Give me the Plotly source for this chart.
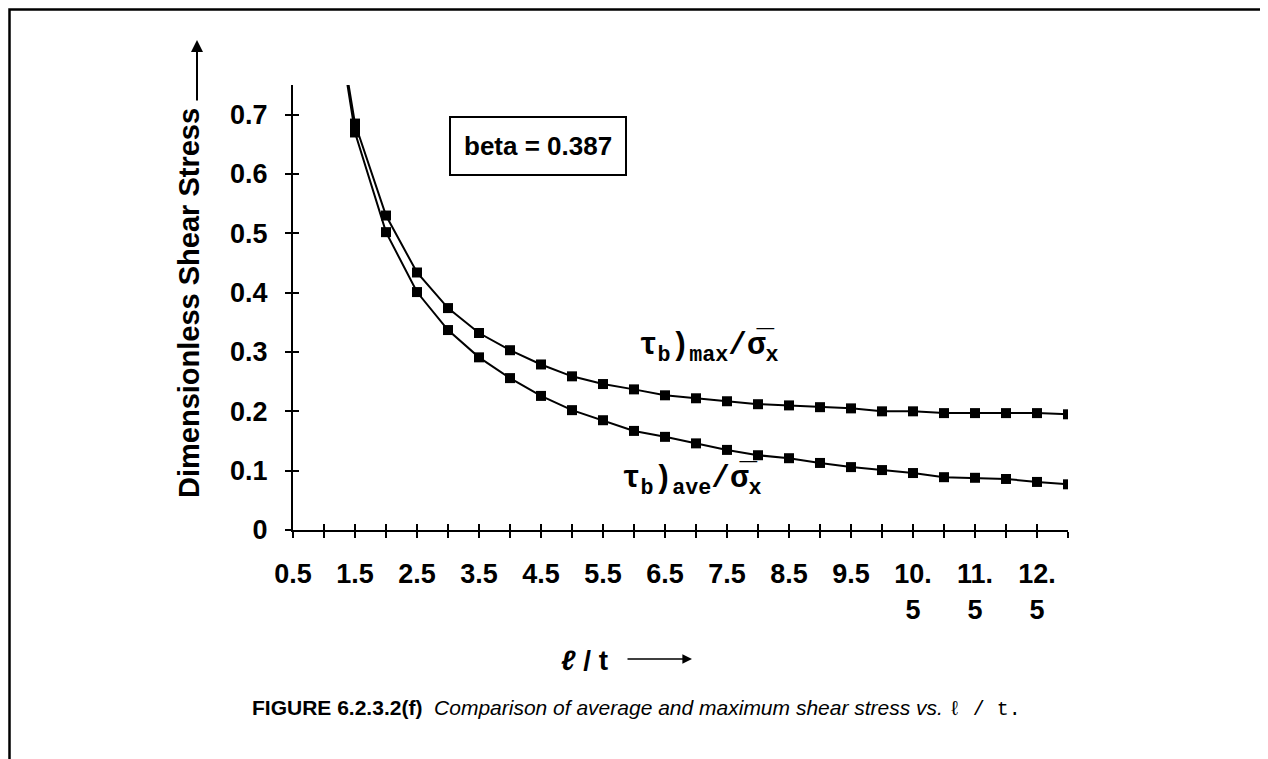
import plotly.graph_objects as go

# ---- data ----
l_over_t = [1.0, 1.5, 2.0, 2.5, 3.0, 3.5, 4.0, 4.5, 5.0, 5.5, 6.0, 6.5, 7.0,
            7.5, 8.0, 8.5, 9.0, 9.5, 10.0, 10.5, 11.0, 11.5, 12.0, 12.5, 13.0]
tau_max = [1.00, 0.685, 0.530, 0.434, 0.374, 0.332, 0.303, 0.279, 0.259, 0.246,
           0.237, 0.227, 0.222, 0.217, 0.212, 0.210, 0.207, 0.205, 0.200, 0.200,
           0.197, 0.197, 0.197, 0.197, 0.195]
tau_ave = [1.00, 0.670, 0.502, 0.401, 0.337, 0.291, 0.256, 0.226, 0.202, 0.185,
           0.167, 0.157, 0.146, 0.135, 0.126, 0.121, 0.113, 0.106, 0.101, 0.096,
           0.089, 0.088, 0.086, 0.081, 0.077]

x_tickvals = [0.5, 1.5, 2.5, 3.5, 4.5, 5.5, 6.5, 7.5, 8.5, 9.5, 10.5, 11.5, 12.5]
x_ticktext = ["0.5", "1.5", "2.5", "3.5", "4.5", "5.5", "6.5", "7.5", "8.5", "9.5",
              "10.<br>5", "11.<br>5", "12.<br>5"]
y_tickvals = [0, 0.1, 0.2, 0.3, 0.4, 0.5, 0.6, 0.7]
y_ticktext = ["0", "0.1", "0.2", "0.3", "0.4", "0.5", "0.6", "0.7"]

x_range = [0.5, 13.0]
y_range = [0.0, 0.75]

# ---- layout geometry (page pixels, figure is drawn 8px in from page corner) ----
OFF = 8
W, H = 1268, 759
AX_L, AX_R, AX_T, AX_B = 293, 1068, 85, 530   # plot area in page pixels
L = AX_L - OFF
T = AX_T - OFF
R = W - (AX_R - OFF)
B = H - (AX_B - OFF)
PW, PH = AX_R - AX_L, AX_B - AX_T


def px(x):
    return (x - AX_L) / PW


def py(y):
    return (AX_B - y) / PH


TICKFONT = dict(family="Liberation Sans Narrow, Arial Narrow, Liberation Sans",
                size=27, color="black", weight="bold")
MONO = "Liberation Mono, DejaVu Sans Mono, Courier New, monospace"

fig = go.Figure()
line_style = dict(color="black", width=2)
marker_style = dict(symbol="square", size=10, color="black")
fig.add_trace(go.Scatter(x=l_over_t, y=tau_max, mode="lines+markers",
                         line=line_style, marker=marker_style, name="max",
                         showlegend=False))
fig.add_trace(go.Scatter(x=l_over_t, y=tau_ave, mode="lines+markers",
                         line=line_style, marker=marker_style, name="ave",
                         showlegend=False))
# dummy trace to activate overlay axes (crossing ticks)
fig.add_trace(go.Scatter(x=[None], y=[None], xaxis="x2", yaxis="y2",
                         showlegend=False, hoverinfo="skip"))

fig.update_layout(
    width=W, height=H,
    margin=dict(l=L, r=R, t=T, b=B, pad=0),
    paper_bgcolor="white", plot_bgcolor="white",
    showlegend=False,
    xaxis=dict(range=x_range, showgrid=False, zeroline=False,
               showline=True, linecolor="black", linewidth=2,
               tickmode="array", tickvals=x_tickvals, ticktext=x_ticktext,
               ticks="outside", ticklen=6, tickwidth=2, tickcolor="black",
               minor=dict(tick0=0.5, dtick=0.5, ticks="outside", ticklen=6,
                          tickwidth=2, tickcolor="black", showgrid=False),
               tickfont=TICKFONT, ticklabelstandoff=13, tickangle=0),
    yaxis=dict(range=y_range, showgrid=False, zeroline=False,
               showline=True, linecolor="black", linewidth=2,
               tickmode="array", tickvals=y_tickvals, ticktext=y_ticktext,
               ticks="outside", ticklen=6, tickwidth=2, tickcolor="black",
               tickfont=TICKFONT, ticklabelstandoff=12),
    xaxis2=dict(range=x_range, overlaying="x", anchor="y", side="bottom",
                showgrid=False, zeroline=False, showline=False,
                tickmode="array", tickvals=x_tickvals, showticklabels=False,
                ticks="inside", ticklen=6, tickwidth=2, tickcolor="black",
                minor=dict(tick0=0.5, dtick=0.5, ticks="inside", ticklen=6,
                           tickwidth=2, tickcolor="black", showgrid=False)),
    yaxis2=dict(range=y_range, overlaying="y", anchor="x", side="left",
                showgrid=False, zeroline=False, showline=False,
                tickmode="array", tickvals=y_tickvals, showticklabels=False,
                ticks="inside", ticklen=6, tickwidth=2, tickcolor="black"),
)

# outer frame (left/top as close to the page corner as the figure allows)
fig.add_shape(type="rect", xref="paper", yref="paper",
              x0=px(OFF + 1.5), x1=px(1262), y0=py(800), y1=py(OFF + 1.5),
              line=dict(color="black", width=2.5), fillcolor="rgba(0,0,0,0)",
              layer="below")

annots = []
# y-axis title (rotated) and its arrow
annots.append(dict(text="<b>Dimensionless Shear Stress</b>", xref="paper", yref="paper",
                   x=px(189), y=py(303), textangle=-90, showarrow=False,
                   xanchor="center", yanchor="middle",
                   font=dict(family="Liberation Sans, Arial", size=29, color="black")))
annots.append(dict(text="", xref="paper", yref="paper", x=px(197), y=py(40),
                   ax=0, ay=62, showarrow=True, arrowhead=2, arrowsize=1.2,
                   arrowwidth=2, arrowcolor="black"))
# x-axis title and arrow
annots.append(dict(text="<b><i>ℓ</i> / t</b>", xref="paper", yref="paper",
                   x=px(584), y=py(660), showarrow=False,
                   xanchor="center", yanchor="middle",
                   font=dict(family="Liberation Sans, Arial", size=28, color="black")))
annots.append(dict(text="", xref="paper", yref="paper", x=px(692), y=py(659),
                   ax=-66, ay=0, showarrow=True, arrowhead=2, arrowsize=1.2,
                   arrowwidth=1.6, arrowcolor="black"))
# beta box
annots.append(dict(text="<b>beta = 0.387</b>", xref="paper", yref="paper",
                   x=px(538), y=py(146), showarrow=False,
                   xanchor="center", yanchor="middle",
                   font=dict(family="Liberation Sans Narrow, Arial Narrow, Liberation Sans",
                             size=26, color="black"),
                   bordercolor="black", borderwidth=2, borderpad=13,
                   bgcolor="white"))
# curve labels
annots.append(dict(text="τ<sub>b</sub>)<sub>max</sub>/σ\u0305<sub>x</sub>",
                   xref="x", yref="y", x=6.05, y=0.308, showarrow=False,
                   xanchor="left", yanchor="middle",
                   font=dict(family=MONO, size=31, color="black", weight="bold")))
annots.append(dict(text="τ<sub>b</sub>)<sub>ave</sub>/σ\u0305<sub>x</sub>",
                   xref="x", yref="y", x=5.77, y=0.084, showarrow=False,
                   xanchor="left", yanchor="middle",
                   font=dict(family=MONO, size=31, color="black", weight="bold")))
# caption
annots.append(dict(text="<b>FIGURE 6.2.3.2(f)</b>  <i>Comparison of average and maximum shear stress vs. </i>"
                        "<span style=\"font-family:'Liberation Mono', monospace; font-size:20px\">ℓ / t.</span>",
                   xref="paper", yref="paper", x=px(250), y=py(708),
                   showarrow=False, xanchor="left", yanchor="middle",
                   font=dict(family="Liberation Sans, Arial", size=21, color="black")))

fig.update_layout(annotations=annots)

fig.write_html("out.html")
